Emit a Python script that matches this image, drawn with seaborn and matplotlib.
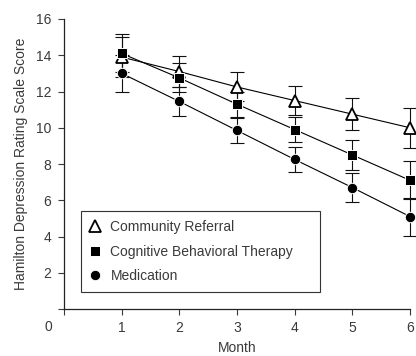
"""Hamilton depression scores by month for three treatment groups."""

import numpy as np
import pandas as pd
import matplotlib
matplotlib.use("Agg")
import matplotlib.pyplot as plt
from matplotlib.lines import Line2D
import seaborn as sns


# ── Data ──────────────────────────────────────────────────────────────────────
months = [1, 2, 3, 4, 5, 6]
groups = ["Community Referral", "Cognitive Behavioral Therapy", "Medication"]

community_mean = [13.9, 13.1, 12.25, 11.5, 10.75, 10.0]
community_err  = [1.1, 0.85, 0.8, 0.8, 0.9, 1.1]
cbt_mean       = [14.1, 12.75, 11.3, 9.9, 8.5, 7.1]
cbt_err        = [1.05, 0.8, 0.7, 0.7, 0.85, 1.05]
med_mean       = [13.0, 11.45, 9.85, 8.25, 6.7, 5.1]
med_err        = [1.0, 0.8, 0.7, 0.7, 0.8, 1.05]

y_ticks = [0, 2, 4, 6, 8, 10, 12, 14, 16]
x_ticks = [0, 1, 2, 3, 4, 5, 6]

df = pd.DataFrame({
    "month": months * 3,
    "score": community_mean + cbt_mean + med_mean,
    "err":   community_err + cbt_err + med_err,
    "group": np.repeat(groups, len(months)),
})

# ── Style ─────────────────────────────────────────────────────────────────────
sns.set_style("ticks")
plt.rcParams["font.family"] = ["Liberation Sans", "DejaVu Sans"]
TXT = "#3a3a3a"

marker_style = {
    "Community Referral":           dict(marker="^", markersize=8, markerfacecolor="white",
                                         markeredgecolor="black", markeredgewidth=1.3),
    "Cognitive Behavioral Therapy": dict(marker="s", markersize=7, markerfacecolor="black",
                                         markeredgecolor="white", markeredgewidth=0.7),
    "Medication":                   dict(marker="o", markersize=7.5, markerfacecolor="black",
                                         markeredgecolor="white", markeredgewidth=0.7),
}

fig = plt.figure(figsize=(4.16, 3.56), dpi=100)
ax = fig.add_axes([64 / 416, 1 - 309 / 356, 346 / 416, 290 / 356])

# ── Plot ──────────────────────────────────────────────────────────────────────
for g in groups:
    sub = df[df["group"] == g]
    ax.errorbar(sub["month"], sub["score"], yerr=sub["err"], fmt="none",
                ecolor="#111111", elinewidth=0.8, capsize=5, capthick=0.8,
                clip_on=False, zorder=2)
for g in groups:
    sub = df[df["group"] == g]
    sns.lineplot(data=sub, x="month", y="score", ax=ax, color="black",
                 linewidth=0.8, clip_on=False, zorder=3, legend=False,
                 **marker_style[g])

ax.set_xlim(0, 6)
ax.set_ylim(0, 16)
ax.set_xticks(x_ticks)
ax.set_xticklabels([""] + [str(m) for m in x_ticks[1:]])
ax.set_yticks(y_ticks)
ax.set_yticklabels([""] + [str(v) for v in y_ticks[1:]])
ax.tick_params(axis="both", labelsize=10, labelcolor=TXT, length=4, width=0.8,
               color=TXT, pad=5)
for side in ("left", "bottom"):
    ax.spines[side].set_linewidth(0.9)
    ax.spines[side].set_color("#222222")
sns.despine(ax=ax)

# shared origin label
ax.annotate("0", xy=(0, 0), xycoords="data", xytext=(-11, -13),
            textcoords="offset points", ha="center", va="center",
            fontsize=10, color=TXT, annotation_clip=False)

ax.set_xlabel("Month", fontsize=10, color=TXT, labelpad=4)
ax.set_ylabel("Hamilton Depression Rating Scale Score", fontsize=10,
              color=TXT, labelpad=6)

# ── Legend ────────────────────────────────────────────────────────────────────
handles = [Line2D([], [], linestyle="none", color="black", **marker_style[g])
           for g in groups]
leg = ax.legend(handles, groups, loc="lower left",
                bbox_to_anchor=(0.048, 0.058, 0.692, 0.281), mode="expand",
                borderaxespad=0, fontsize=10, labelspacing=0.76,
                borderpad=0.65, handlelength=0.75, handletextpad=0.75,
                frameon=True, fancybox=False, framealpha=1,
                edgecolor="#333333", labelcolor=TXT)
leg.get_frame().set_linewidth(0.8)

plt.savefig("out.png", dpi=100)
plt.close()
